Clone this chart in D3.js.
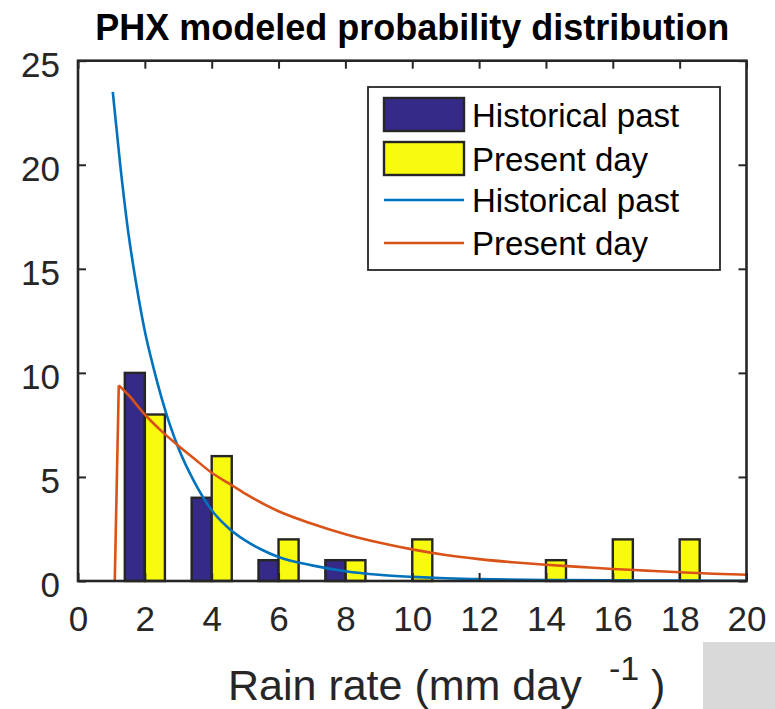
<!DOCTYPE html>
<html>
<head>
<meta charset="utf-8">
<script src="https://cdn.jsdelivr.net/npm/d3@7"></script>
<style>
  html, body { margin: 0; padding: 0; background: #ffffff; }
  svg { display: block; }
  text { font-family: "Liberation Sans", Arial, Helvetica, sans-serif; fill: #262626; }
</style>
</head>
<body>
<svg id="chart" width="775" height="709"></svg>
<script>
// ---- data ----
const categories = [2, 4, 6, 8, 10, 12, 14, 16, 18];
const historicalCounts = [10, 4, 1, 1, 0, 0, 0, 0, 0];
const presentCounts    = [8, 6, 2, 1, 2, 0, 1, 2, 2];

const historicalFitX = [1.04, 1.25, 1.5, 1.75, 2, 2.25, 2.5, 2.75, 3, 3.5, 4, 4.5, 5, 5.5, 6, 7, 8, 9, 10, 11, 12, 14, 16, 18, 20];
const historicalFitY = [23.5, 20.2, 16.8, 14.2, 12.0, 10.3, 8.8, 7.5, 6.4, 4.7, 3.4, 2.55, 1.95, 1.5, 1.15, 0.75, 0.47, 0.3, 0.2, 0.13, 0.09, 0.05, 0.03, 0.02, 0.01];

const presentFitX = [1.1, 1.22, 1.5, 2, 2.5, 3, 3.5, 4, 4.5, 5, 6, 7, 8, 9, 10, 11, 12, 13, 14, 15, 16, 17, 18, 19, 20];
const presentFitY = [0, 9.4, 8.95, 8.0, 7.2, 6.5, 5.85, 5.2, 4.7, 4.2, 3.35, 2.75, 2.25, 1.85, 1.52, 1.25, 1.05, 0.9, 0.78, 0.68, 0.58, 0.5, 0.42, 0.35, 0.3];

const xTicks = [0, 2, 4, 6, 8, 10, 12, 14, 16, 18, 20];
const yTicks = [0, 5, 10, 15, 20, 25];

const titleText = "PHX modeled probability distribution";
const legendLabels = ["Historical past", "Present day", "Historical past", "Present day"];

// ---- styles ----
const colHist = "#352a87", colPres = "#f9fb0e";
const colHistLine = "#0072bd", colPresLine = "#d95319";
const axisCol = "#262626";

const svg = d3.select("#chart");
const L = 78, R = 746.5, T = 60.7, B = 581;
const x = d3.scaleLinear().domain([0, 20]).range([L, R]);
const y = d3.scaleLinear().domain([0, 25]).range([B, T]);
const barW = 0.6; // in data units

svg.append("rect").attr("width", 775).attr("height", 709).attr("fill", "#ffffff");

// bars
const barG = svg.append("g");
barG.selectAll("rect.h").data(categories).join("rect")
  .attr("class", "h")
  .attr("x", (d) => x(d - barW))
  .attr("width", x(barW) - x(0))
  .attr("y", (d, i) => y(historicalCounts[i]))
  .attr("height", (d, i) => y(0) - y(historicalCounts[i]))
  .attr("fill", colHist).attr("stroke", axisCol).attr("stroke-width", 2.4);
barG.selectAll("rect.p").data(categories).join("rect")
  .attr("class", "p")
  .attr("x", (d) => x(d))
  .attr("width", x(barW) - x(0))
  .attr("y", (d, i) => y(presentCounts[i]))
  .attr("height", (d, i) => y(0) - y(presentCounts[i]))
  .attr("fill", colPres).attr("stroke", axisCol).attr("stroke-width", 2.4);

// fitted curves
const lineLin = d3.line().x(d => x(d[0])).y(d => y(d[1])).curve(d3.curveLinear);
const lineMono = d3.line().x(d => x(d[0])).y(d => y(d[1])).curve(d3.curveMonotoneX);
const histPts = historicalFitX.map((v, i) => [v, historicalFitY[i]]);
const presPts = presentFitX.map((v, i) => [v, presentFitY[i]]);
svg.append("path").attr("d", lineMono(histPts)).attr("fill", "none").attr("stroke", colHistLine).attr("stroke-width", 2.6);
svg.append("path").attr("d", lineLin(presPts.slice(0, 2))).attr("fill", "none").attr("stroke", colPresLine).attr("stroke-width", 2.6);
svg.append("path").attr("d", lineMono(presPts.slice(1))).attr("fill", "none").attr("stroke", colPresLine).attr("stroke-width", 2.6).attr("stroke-linejoin", "round");

// axes (box with inward ticks)
const tickLen = 8;
const axG = svg.append("g");
const xb = d3.axisBottom(x).tickValues(xTicks).tickSizeInner(-tickLen).tickSizeOuter(0).tickPadding(0).tickFormat(d3.format("d"));
const gx = axG.append("g").attr("transform", `translate(0,${B})`).call(xb);
gx.select(".domain").remove();
gx.selectAll("line").attr("stroke", axisCol).attr("stroke-width", 2);
gx.selectAll("text").attr("y", 50).attr("dy", null).attr("font-size", 35).attr("fill", axisCol);

const xt = d3.axisTop(x).tickValues(xTicks).tickSizeInner(-tickLen).tickSizeOuter(0).tickFormat("");
const gxt = axG.append("g").attr("transform", `translate(0,${T})`).call(xt);
gxt.select(".domain").remove();
gxt.selectAll("line").attr("stroke", axisCol).attr("stroke-width", 2);

const yl = d3.axisLeft(y).tickValues(yTicks).tickSizeInner(-tickLen).tickSizeOuter(0).tickPadding(0).tickFormat(d3.format("d"));
const gy = axG.append("g").attr("transform", `translate(${L},0)`).call(yl);
gy.select(".domain").remove();
gy.selectAll("line").attr("stroke", axisCol).attr("stroke-width", 2);
gy.selectAll("text").attr("x", -18).attr("dy", "0.45em").attr("font-size", 35).attr("fill", axisCol);

const yr = d3.axisRight(y).tickValues(yTicks).tickSizeInner(-tickLen).tickSizeOuter(0).tickFormat("");
const gyr = axG.append("g").attr("transform", `translate(${R},0)`).call(yr);
gyr.select(".domain").remove();
gyr.selectAll("line").attr("stroke", axisCol).attr("stroke-width", 2);

axG.append("rect").attr("x", L).attr("y", T).attr("width", R - L).attr("height", B - T)
  .attr("fill", "none").attr("stroke", axisCol).attr("stroke-width", 2.6);

// title
svg.append("text").attr("x", (L + R) / 2).attr("y", 40).attr("text-anchor", "middle")
  .attr("font-size", 36).attr("font-weight", "bold").style("fill", "#000")
  .text(titleText);

// x label
const xl = svg.append("text").attr("y", 700).attr("font-size", 43).attr("fill", axisCol);
xl.append("tspan").attr("x", 228).text("Rain rate (mm day");
xl.append("tspan").attr("x", 609).attr("y", 680).attr("font-size", 34).text("-1");
xl.append("tspan").attr("x", 651).attr("y", 700).text(")");

// grey patch at bottom right
svg.append("rect").attr("x", 703).attr("y", 642).attr("width", 72).attr("height", 67).attr("fill", "#d9d9d9");

// legend
const lg = svg.append("g");
lg.append("rect").attr("x", 368).attr("y", 87).attr("width", 352).attr("height", 183)
  .attr("fill", "#fff").attr("stroke", axisCol).attr("stroke-width", 1.8);
const rowY = [115, 159, 200, 243];
lg.append("rect").attr("x", 384).attr("y", rowY[0] - 17).attr("width", 80).attr("height", 33)
  .attr("fill", colHist).attr("stroke", axisCol).attr("stroke-width", 2.4);
lg.append("rect").attr("x", 384).attr("y", rowY[1] - 17).attr("width", 80).attr("height", 33)
  .attr("fill", colPres).attr("stroke", axisCol).attr("stroke-width", 2.4);
lg.append("line").attr("x1", 384).attr("x2", 464).attr("y1", rowY[2]).attr("y2", rowY[2])
  .attr("stroke", colHistLine).attr("stroke-width", 2.6);
lg.append("line").attr("x1", 384).attr("x2", 464).attr("y1", rowY[3]).attr("y2", rowY[3])
  .attr("stroke", colPresLine).attr("stroke-width", 2.6);
lg.selectAll("text.lab").data(legendLabels).join("text").attr("class", "lab")
  .attr("x", 472).attr("y", (d, i) => rowY[i] + 11.7)
  .attr("font-size", 33).style("fill", "#000").text(d => d);
</script>
</body>
</html>
